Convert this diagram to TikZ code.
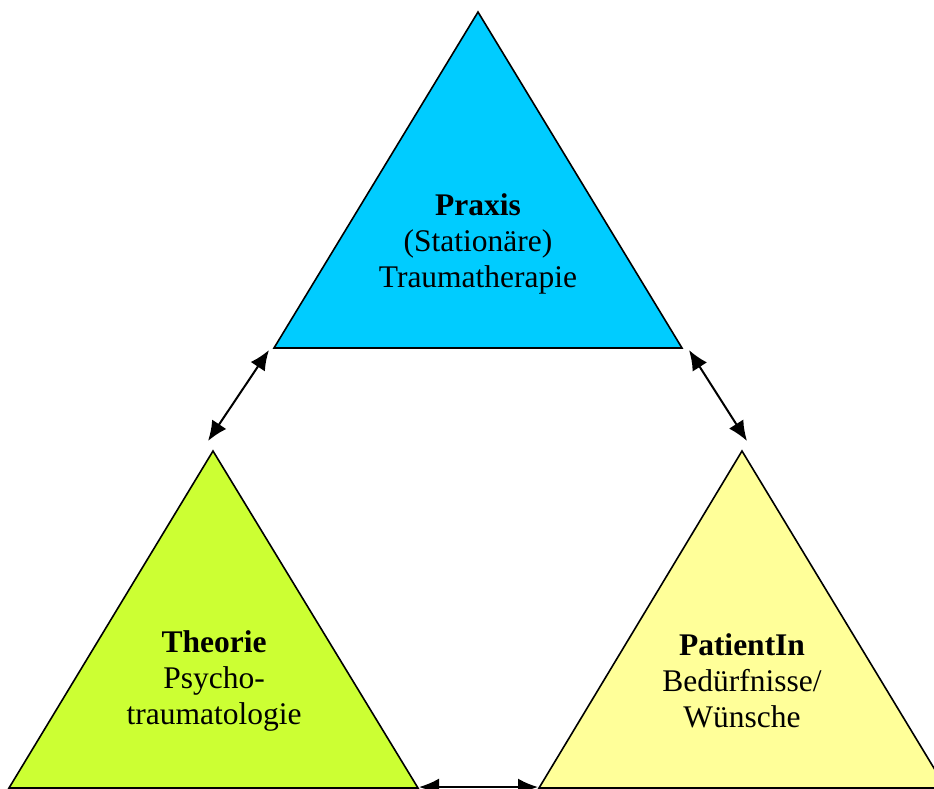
\documentclass[tikz,border=0pt]{standalone}
\usepackage{fontspec}
\setmainfont{Liberation Serif}
\usetikzlibrary{arrows.meta}
\definecolor{praxis}{HTML}{00CCFF}
\definecolor{theorie}{HTML}{CCFF33}
\definecolor{patient}{HTML}{FFFF99}
\begin{document}
\begin{tikzpicture}[x=1pt,y=-1pt,
  tri/.style={draw=black,line width=1.6pt,line join=miter},
  lbl/.style={align=center,font=\fontsize{31.5}{36}\selectfont,inner sep=0pt},
  dbl/.style={line width=2pt,{Latex[length=20pt,width=17pt]}-{Latex[length=20pt,width=17pt]}}]
\useasboundingbox (0,0) rectangle (934,788);
% vertices
\coordinate (pA) at (478,12);
\coordinate (pL) at (274,348);
\coordinate (pR) at (682,348);
\coordinate (tA) at (213,451);
\coordinate (tL) at (9,788);
\coordinate (tR) at (418,788);
\coordinate (rA) at (742,451);
\coordinate (rL) at (539,788);
\coordinate (rR) at (946,788);
\fill[praxis] (pA) -- (pL) -- (pR) -- cycle;
\draw[tri] (pA) -- (pL) -- (pR) -- cycle;
\fill[theorie] (tA) -- (tL) -- (tR) -- cycle;
\draw[tri] (tA) -- (tL) -- (tR) -- cycle;
\fill[patient] (rA) -- (rL) -- (rR) -- cycle;
\draw[tri] (rA) -- (rL) -- (rR) -- cycle;
% labels
\node[lbl] (praxis) at (478,244) {\textbf{Praxis}\\(Stationäre)\\Traumatherapie};
\node[lbl] (theorie) at (214,681) {\textbf{Theorie}\\Psycho-\\traumatologie};
\node[lbl] (patientin) at (742,681) {\textbf{PatientIn}\\Bedürfnisse/\\Wünsche};
% arrow ends
\coordinate (a1) at (269,350);
\coordinate (a2) at (208,441);
\coordinate (b1) at (689,350);
\coordinate (b2) at (747,441);
\coordinate (c1) at (419,787);
\coordinate (c2) at (538,787);
\draw[dbl] (a1) -- (a2);
\draw[dbl] (b1) -- (b2);
\draw[dbl] (c1) -- (c2);
\end{tikzpicture}
\end{document}
